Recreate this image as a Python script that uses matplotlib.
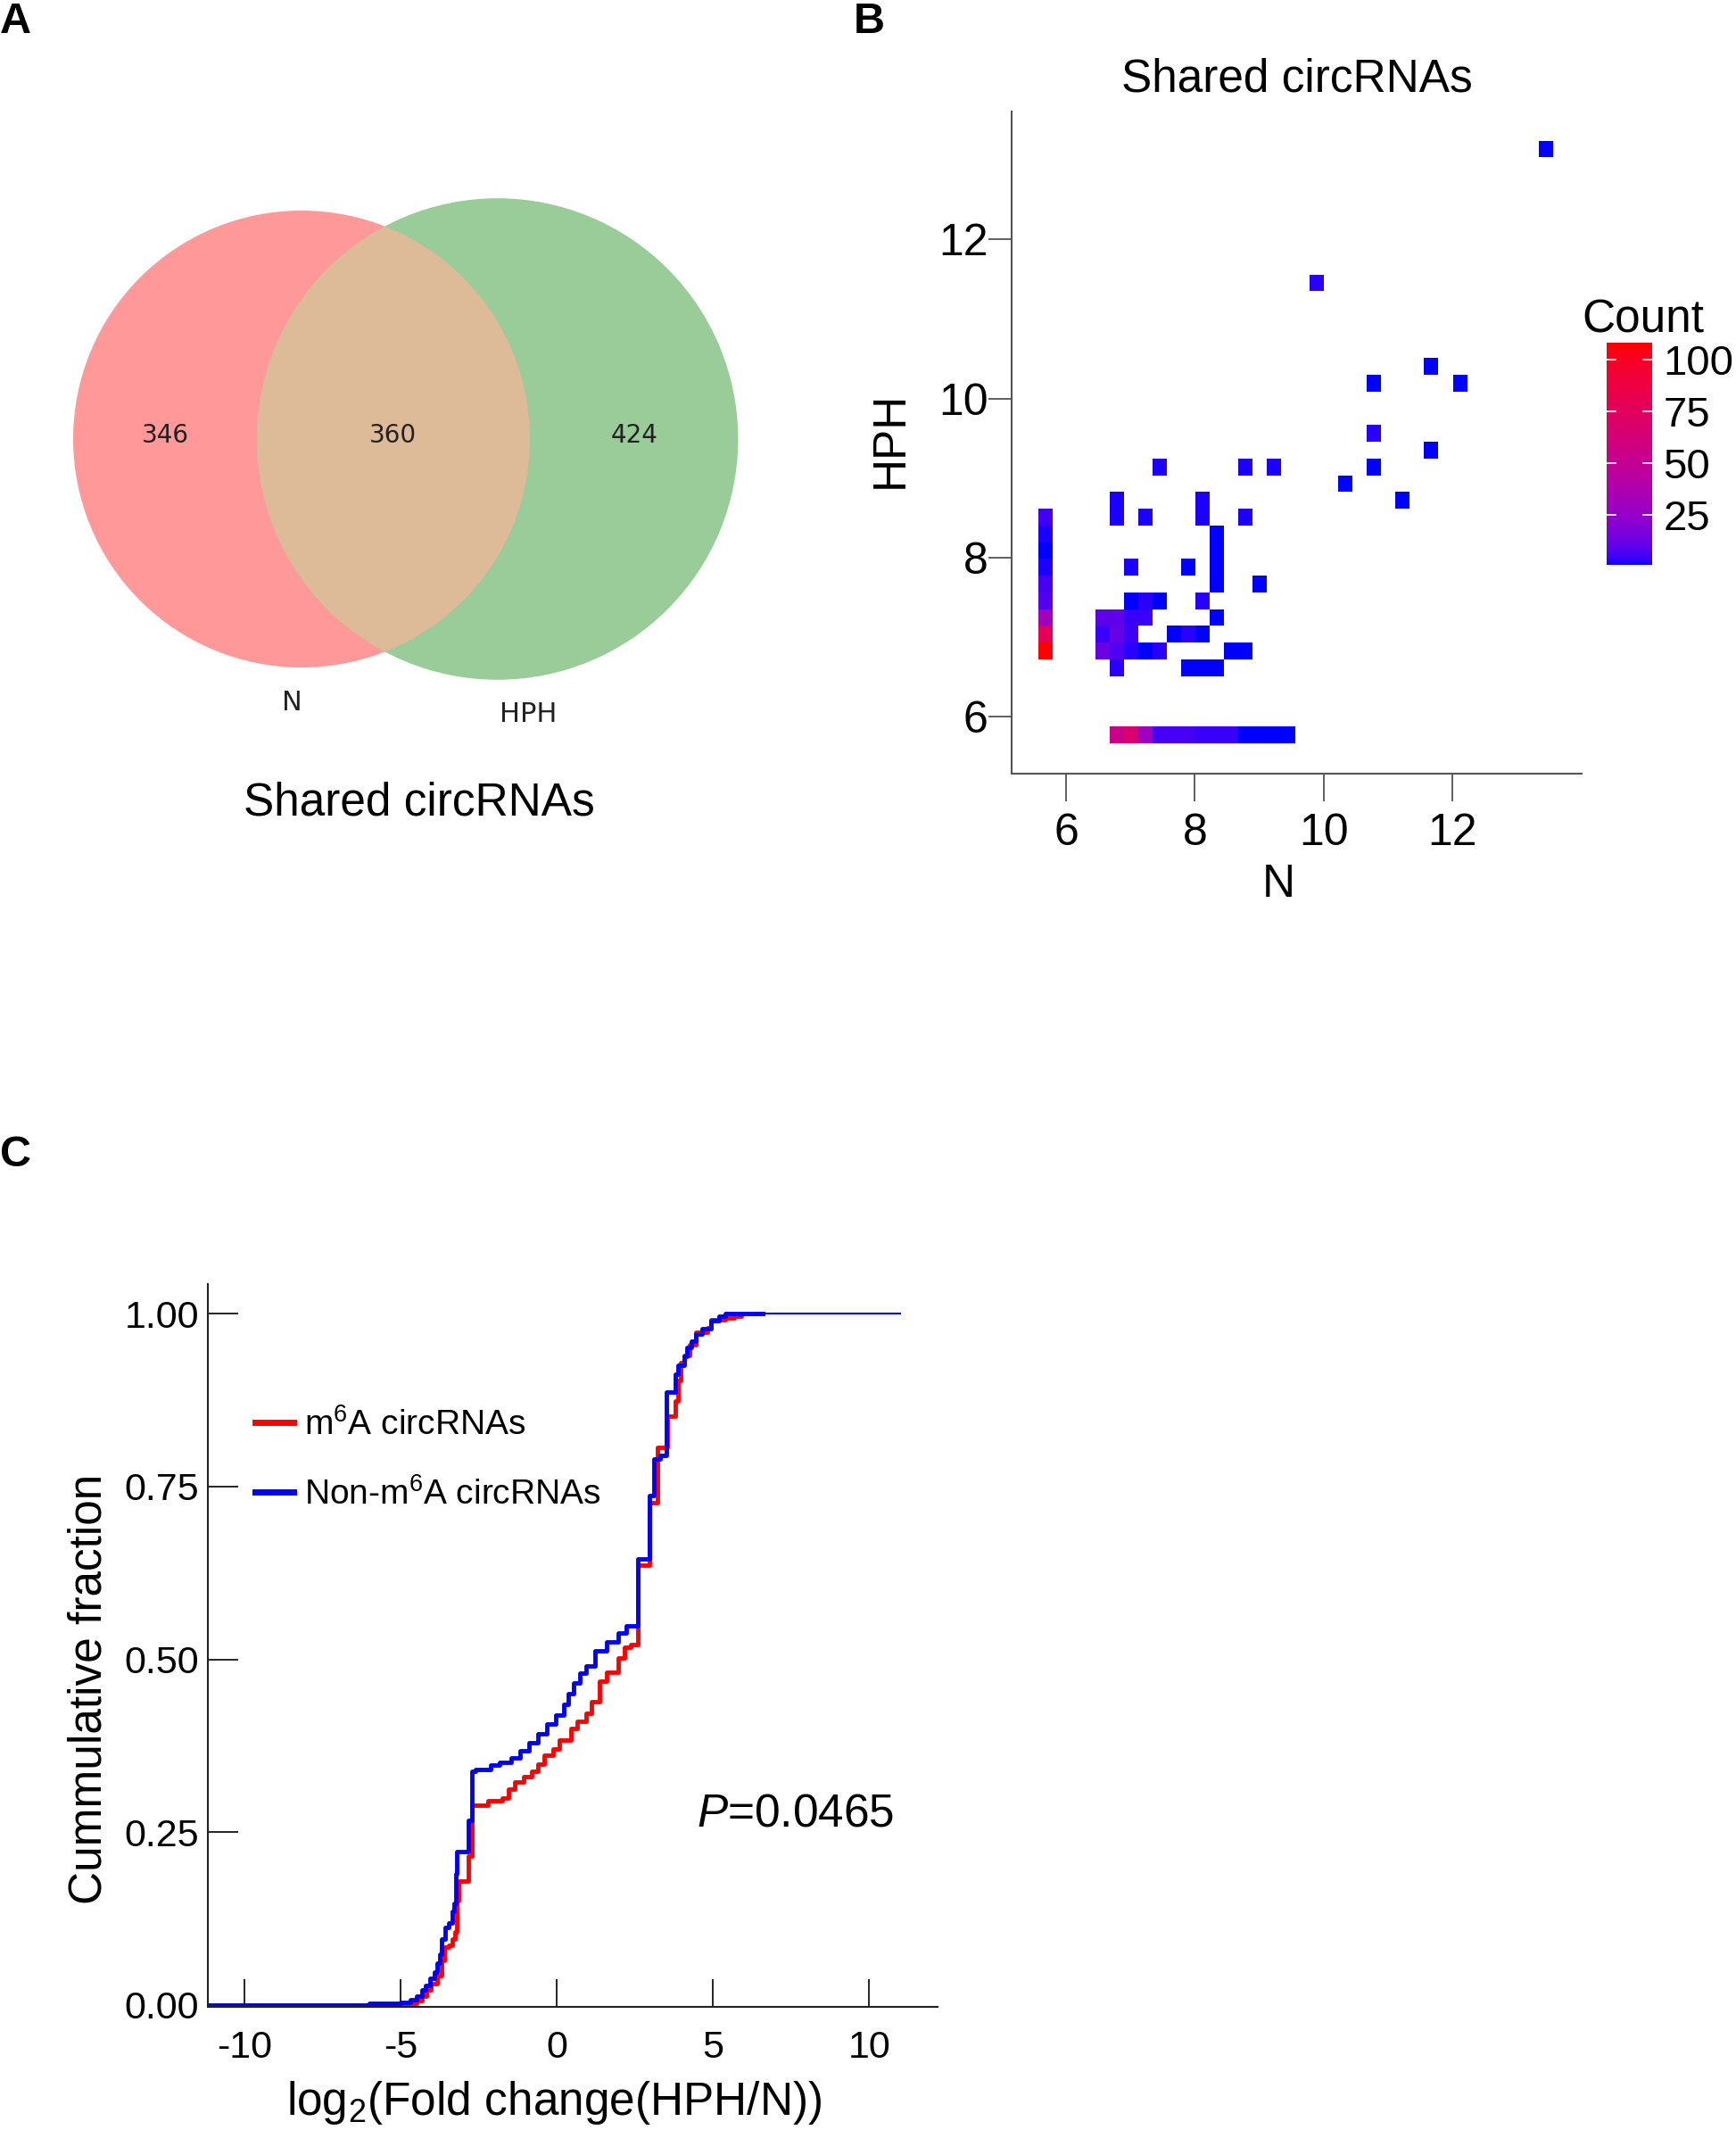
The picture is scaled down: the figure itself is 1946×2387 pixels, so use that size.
import numpy as np
import matplotlib
matplotlib.use('Agg')
import matplotlib.pyplot as plt
from matplotlib.patches import Circle
from matplotlib.colors import ListedColormap

# ---- data -------------------------------------------------------------
# A: venn of circRNAs
venn_counts = [346, 360, 424]          # N only, shared, HPH only
venn_sets = ['N', 'HPH']

# B: 2d bins of shared circRNAs (log2 expression N vs HPH)
cell_n = [5.68, 5.68, 5.68, 5.68, 5.68, 5.68, 5.68, 5.68, 5.68,
          6.79, 7.01, 7.23, 7.45, 7.68, 7.90, 8.12, 8.34, 8.56, 8.79, 9.01, 9.23, 9.45,
          6.79, 7.90, 8.12, 8.34,
          6.56, 6.79, 7.01, 7.23, 7.45, 8.56, 8.79,
          6.56, 6.79, 7.01, 7.68, 7.90, 8.12,
          6.56, 6.79, 7.01, 7.23, 8.34,
          7.01, 7.23, 7.45, 8.12,
          8.34, 9.01,
          7.01, 7.90, 8.34,
          8.34, 8.34,
          6.79, 7.23, 8.12, 8.79,
          6.79, 8.12, 11.23,
          10.34,
          7.45, 8.79, 9.23, 10.79,
          11.68, 10.79, 10.79, 12.12, 11.68, 9.90, 13.45]
cell_hph = [6.83, 7.04, 7.25, 7.46, 7.67, 7.88, 8.09, 8.30, 8.51,
            5.78, 5.78, 5.78, 5.78, 5.78, 5.78, 5.78, 5.78, 5.78, 5.78, 5.78, 5.78, 5.78,
            6.62, 6.62, 6.62, 6.62,
            6.83, 6.83, 6.83, 6.83, 6.83, 6.83, 6.83,
            7.04, 7.04, 7.04, 7.04, 7.04, 7.04,
            7.25, 7.25, 7.25, 7.25, 7.25,
            7.46, 7.46, 7.46, 7.46,
            7.67, 7.67,
            7.88, 7.88, 7.88,
            8.09, 8.30,
            8.51, 8.51, 8.51, 8.51,
            8.72, 8.72, 8.72,
            8.93,
            9.14, 9.14, 9.14, 9.14,
            9.35, 9.56, 10.19, 10.19, 10.40, 11.45, 13.14]
cell_count = [108, 78, 31, 8, 6, 2, 1, 2, 5,
              54, 67, 30, 6, 6, 6, 4, 4, 4, 1, 1, 1, 1,
              3, 1, 1, 1,
              13, 7, 3, 1, 3, 1, 1,
              4, 12, 5, 1, 3, 1,
              10, 10, 4, 4, 1,
              1, 3, 1, 3,
              1, 1,
              2, 1, 1,
              1, 1,
              2, 2, 2, 2,
              2, 2, 1,
              1,
              2, 2, 2, 1,
              1, 3, 1, 1, 1, 3, 1]
count_ticks = [25, 50, 75, 100]

# C: cumulative fraction of log2 fold change
m6a_x = [-11.2, -4.8, -4.5, -4.31, -4.17, -4.03, -3.84, -3.70, -3.60, -3.46, -3.36, -3.27,
         -3.22, -3.15, -2.84, -2.71, -2.22, -1.74, -1.55, -1.36, -1.08, -0.80, -0.60, -0.41,
         -0.12, 0.07, 0.45, 0.64, 0.92, 1.11, 1.35, 1.59, 1.97, 2.16, 2.35, 2.60, 2.97, 3.21,
         3.54, 3.78, 3.88, 3.97, 4.07, 4.26, 4.45, 4.83, 4.92, 5.40, 5.69, 5.90, 6.60]
m6a_y = [0.0, 0.003, 0.007, 0.013, 0.022, 0.031, 0.043, 0.065, 0.084, 0.086, 0.095, 0.106,
         0.151, 0.179, 0.216, 0.289, 0.295, 0.300, 0.312, 0.323, 0.330, 0.338, 0.349, 0.362,
         0.370, 0.383, 0.400, 0.410, 0.422, 0.439, 0.469, 0.482, 0.502, 0.517, 0.521, 0.637,
         0.727, 0.807, 0.852, 0.874, 0.904, 0.930, 0.940, 0.955, 0.973, 0.980, 0.991, 0.994,
         0.996, 1.0, 1.0]
non_x = [-11.2, -6.0, -5.0, -4.7, -4.5, -4.31, -4.2, -4.08, -3.93, -3.84, -3.74, -3.70, -3.57,
         -3.46, -3.36, -3.30, -3.25, -3.22, -2.84, -2.71, -2.60, -2.12, -1.84, -1.46, -1.17,
         -0.89, -0.60, -0.31, -0.03, 0.21, 0.35, 0.54, 0.73, 0.92, 1.21, 1.59, 1.97, 2.21, 2.59,
         2.97, 3.11, 3.30, 3.50, 3.78, 3.88, 4.07, 4.16, 4.31, 4.45, 4.64, 4.92, 5.20, 5.40, 6.60]
non_y = [0.0, 0.002, 0.004, 0.008, 0.013, 0.022, 0.028, 0.039, 0.048, 0.061, 0.074, 0.095, 0.112,
         0.119, 0.136, 0.147, 0.190, 0.222, 0.267, 0.338, 0.341, 0.347, 0.351, 0.358, 0.368,
         0.379, 0.392, 0.407, 0.420, 0.435, 0.450, 0.466, 0.480, 0.491, 0.513, 0.525, 0.538, 0.548,
         0.646, 0.737, 0.790, 0.795, 0.887, 0.912, 0.925, 0.938, 0.951, 0.960, 0.971, 0.979, 0.990,
         0.996, 1.0, 1.0]
tail_x = [6.6, 11.0]
tail_y = [1.0, 1.0]
fc_ticks = [-10, -5, 0, 5, 10]
fc_labels = ['-10', '-5', '0', '5', '10']
frac_ticks = [0, 0.25, 0.5, 0.75, 1.0]
frac_labels = ['0.00', '0.25', '0.50', '0.75', '1.00']
p_text = 'P=0.0465'

# ---- style ------------------------------------------------------------
plt.rcParams['font.family'] = ['Liberation Sans', 'DejaVu Sans']
plt.rcParams['mathtext.fontset'] = 'custom'
plt.rcParams['mathtext.rm'] = 'Liberation Sans'
plt.rcParams['mathtext.it'] = 'Liberation Sans:italic'
plt.rcParams['mathtext.default'] = 'regular'

W, H = 1946, 2387
fig = plt.figure(figsize=(W / 100, H / 100), dpi=100)


def px_axes(left, top, right, bottom):
    return fig.add_axes([left / W, 1 - bottom / H, (right - left) / W, (bottom - top) / H])


def lab_cmap(n=256):
    # blue -> red interpolated in Lab like ggplot's gradient
    lab0 = np.array([32.30, 79.19, -107.86])
    lab1 = np.array([53.24, 80.09, 67.20])
    t = np.linspace(0, 1, n)[:, None]
    L, a, b = (lab0 + (lab1 - lab0) * t).T
    fy = (L + 16) / 116
    fx = fy + a / 500
    fz = fy - b / 200
    finv = lambda v: np.where(v > 6 / 29, v ** 3, 3 * (6 / 29) ** 2 * (v - 4 / 29))
    X, Y, Z = 0.95047 * finv(fx), finv(fy), 1.08883 * finv(fz)
    rgb = np.stack([3.2406 * X - 1.5372 * Y - 0.4986 * Z,
                    -0.9689 * X + 1.8758 * Y + 0.0415 * Z,
                    0.0557 * X - 0.2040 * Y + 1.0570 * Z], axis=1)
    rgb = np.clip(rgb, 0, 1)
    rgb = np.where(rgb <= 0.0031308, 12.92 * rgb, 1.055 * rgb ** (1 / 2.4) - 0.055)
    return ListedColormap(np.clip(rgb, 0, 1))


# panel letters
fig.text(0 / W, 1 - 2 / H, 'A', fontsize=35, fontweight='bold', ha='left', va='top')
fig.text(957 / W, 1 - 2 / H, 'B', fontsize=35, fontweight='bold', ha='left', va='top')
fig.text(0 / W, 1 - 1272 / H, 'C', fontsize=35, fontweight='bold', ha='left', va='top')

# ---- A: venn ----------------------------------------------------------
ax_a = px_axes(0, 0, 950, 950)
ax_a.set_xlim(0, 950); ax_a.set_ylim(950, 0); ax_a.axis('off')
tot1 = venn_counts[0] + venn_counts[1]
tot2 = venn_counts[1] + venn_counts[2]
r1 = 256.0
r2 = r1 * np.sqrt(tot2 / tot1)
target = np.pi * r1 ** 2 * venn_counts[1] / tot1


def lens(d):
    c1 = np.arccos((d * d + r1 * r1 - r2 * r2) / (2 * d * r1))
    c2 = np.arccos((d * d + r2 * r2 - r1 * r1) / (2 * d * r2))
    k = np.sqrt((-d + r1 + r2) * (d + r1 - r2) * (d - r1 + r2) * (d + r1 + r2))
    return r1 * r1 * c1 + r2 * r2 * c2 - 0.5 * k


lo, hi = r2 - r1 + 1e-6, r1 + r2 - 1e-6
for _ in range(60):
    mid = (lo + hi) / 2
    if lens(mid) > target:
        lo = mid
    else:
        hi = mid
d = (lo + hi) / 2
cx1, cy = 338.0, 492.0
cx2 = cx1 + d
c_red = Circle((cx1, cy), r1, fc='#FF9999', ec='none')
c_green = Circle((cx2, cy), r2, fc='#99CC99', ec='none')
ax_a.add_patch(c_red); ax_a.add_patch(c_green)
c_mid = Circle((cx1, cy), r1, fc='#DEBB98', ec='none')
ax_a.add_patch(c_mid); c_mid.set_clip_path(c_green)
xs = [((cx1 - r1) + (cx2 - r2)) / 2, ((cx2 - r2) + (cx1 + r1)) / 2, ((cx1 + r1) + (cx2 + r2)) / 2]
for x, v in zip(xs, venn_counts):
    ax_a.text(x, cy - 4, str(v), fontsize=20, family='DejaVu Sans', color='#222222',
              ha='center', va='center')
ax_a.text(cx1 - 11, cy + 296, venn_sets[0], fontsize=22, family='DejaVu Sans', color='#222222',
          ha='center', va='center')
ax_a.text(cx2 + 35, cy + 309, venn_sets[1], fontsize=22, family='DejaVu Sans', color='#222222',
          ha='center', va='center')
ax_a.text(470, 900, 'Shared circRNAs', fontsize=37, ha='center', va='center')

# ---- B: 2d histogram ---------------------------------------------------
ax_b = px_axes(1134, 125, 1773, 867)
xedges = 5.564 + 0.2222 * np.arange(37)
yedges = 5.671 + 0.2103 * np.arange(37)
cmap = lab_cmap()
h = ax_b.hist2d(cell_n, cell_hph, bins=[xedges, yedges], weights=cell_count,
                cmap=cmap, vmin=1, vmax=108, cmin=1)
ax_b.set_xlim(5.155, 14.01); ax_b.set_ylim(5.286, 13.607)
for s in ['top', 'right']:
    ax_b.spines[s].set_visible(False)
for s in ['left', 'bottom']:
    ax_b.spines[s].set_color('#555555'); ax_b.spines[s].set_linewidth(1.5)
ax_b.set_xticks([6, 8, 10, 12]); ax_b.set_yticks([6, 8, 10, 12])
ax_b.tick_params(axis='x', length=22, width=1.2, color='#444444', labelsize=36, pad=10)
ax_b.tick_params(axis='y', length=19, width=1.2, color='#444444', labelsize=36, pad=0)
ax_b.set_title('Shared circRNAs', fontsize=37, pad=16)
ax_b.set_xlabel('N', fontsize=37)
ax_b.xaxis.set_label_coords(0.468, -0.135)
ax_b.set_ylabel('HPH', fontsize=37)
ax_b.yaxis.set_label_coords(-0.174, 0.504)

cax = px_axes(1801, 384, 1852, 633)
cb = fig.colorbar(h[3], cax=cax)
cb.outline.set_visible(False)
cb.set_ticks(count_ticks)
cax.tick_params(direction='in', left=True, right=True, length=8, width=1.2, color='white',
                labelsize=34, pad=9)
fig.text(1773 / W, 1 - 372 / H, 'Count', fontsize=37, ha='left', va='baseline')

# ---- C: cumulative curves ---------------------------------------------
ax_c = px_axes(233, 1439, 1051, 2249)
ax_c.step(m6a_x, m6a_y, where='post', color='#FF0000', lw=3.5, label='m$^6$A circRNAs')
ax_c.step(non_x, non_y, where='post', color='#0000FF', lw=3.5, label='Non-m$^6$A circRNAs')
ax_c.plot(tail_x, tail_y, color='#0000FF', lw=1.5)
ax_c.set_xlim(-11.18, 12.19); ax_c.set_ylim(-0.0026, 1.043)
for s in ['top', 'right']:
    ax_c.spines[s].set_visible(False)
for s in ['left', 'bottom']:
    ax_c.spines[s].set_linewidth(1.5); ax_c.spines[s].set_color('#222222')
ax_c.set_xticks(fc_ticks, labels=fc_labels)
ax_c.set_yticks(frac_ticks, labels=frac_labels)
ax_c.tick_params(axis='x', direction='in', length=22, width=1.2, labelsize=31, pad=19)
ax_c.tick_params(axis='y', direction='in', length=24.5, width=1.2, labelsize=31, pad=7)
ax_c.set_xlabel('log$_2$(Fold change(HPH/N))', fontsize=37)
ax_c.xaxis.set_label_coords(0.474, -0.1)
ax_c.set_ylabel('Cummulative fraction', fontsize=37)
ax_c.yaxis.set_label_coords(-0.133, 0.44)
leg = ax_c.legend(loc='center left', bbox_to_anchor=(0.065, 0.757), frameon=False, fontsize=28,
                  handlelength=1.1, handletextpad=0.3, labelspacing=1.05, borderpad=0,
                  borderaxespad=0)
for ln in leg.get_lines():
    ln.set_linewidth(5)
ax_c.text(0.67, 0.267, '$\\mathit{P}$' + p_text[1:], transform=ax_c.transAxes, fontsize=37,
          ha='left', va='center')

fig.savefig('out.png', dpi=100)
